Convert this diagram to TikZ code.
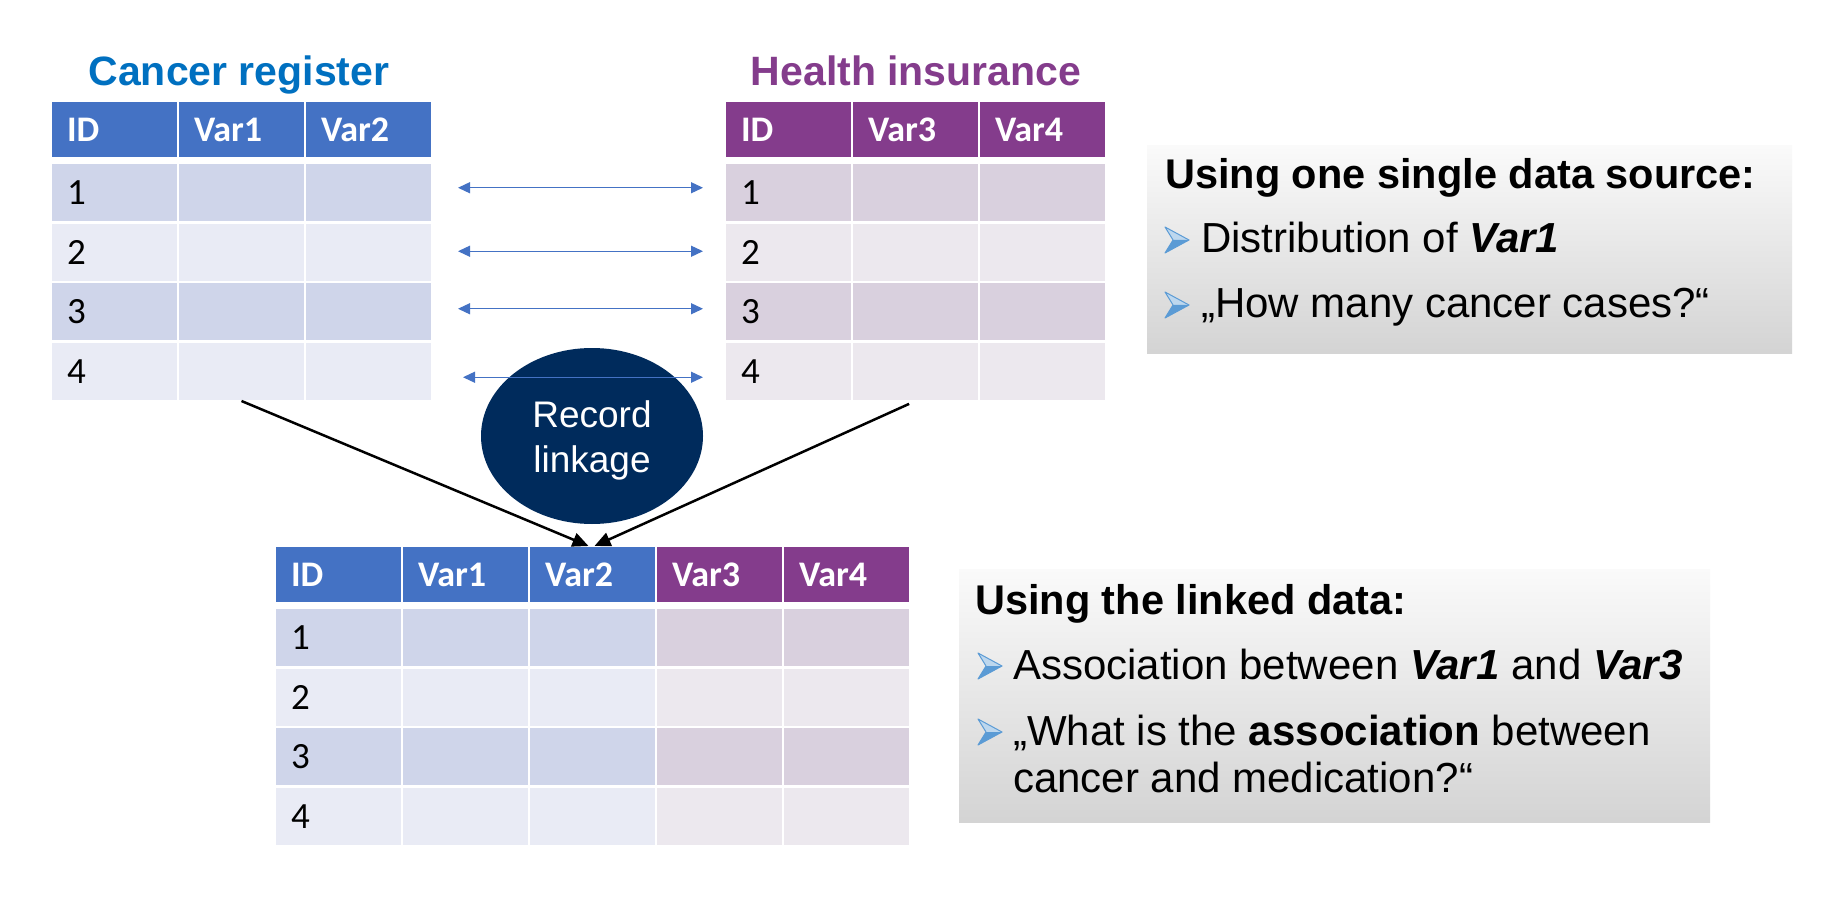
\documentclass[tikz,border=0pt]{standalone}
\usepackage{fontspec}
\setmainfont{Liberation Sans}
\newfontfamily\calib{Carlito}
\usetikzlibrary{shapes.geometric,arrows.meta}
\definecolor{titleblue}{HTML}{0070C0}
\definecolor{hdrblue}{HTML}{4472C4}
\definecolor{boddrow}{HTML}{CFD5EA}
\definecolor{bevenrow}{HTML}{E9EBF5}
\definecolor{purp}{HTML}{843C8C}
\definecolor{poddrow}{HTML}{D9D0DE}
\definecolor{pevenrow}{HTML}{ECE8EE}
\definecolor{navyfill}{HTML}{002B5C}
\definecolor{bulblue}{HTML}{5B9BD5}
\definecolor{bullight}{HTML}{BDD7EE}
\begin{document}
\begin{tikzpicture}[x=1pt,y=-1pt,
  cellbase/.style={draw=white, line width=2.5pt, anchor=north west, minimum width=127pt,
    text width=95pt, inner xsep=16pt, inner ysep=0pt, align=left, outer sep=0pt},
  hdr/.style={cellbase, minimum height=57.5pt, text=white, font={\calib\bfseries\fontsize{36}{40}\selectfont}},
  rowc/.style={cellbase, minimum height=59.5pt, font={\calib\fontsize{37}{40}\selectfont}},
  ttl/.style={anchor=base, inner sep=0pt, font={\bfseries\fontsize{41}{49}\selectfont}},
  qbox/.style={anchor=north west, top color=black!2, bottom color=black!17, inner sep=0pt, outer sep=0pt},
  bhead/.style={anchor=base west, inner sep=0pt, font={\bfseries\fontsize{41.5}{49}\selectfont}},
  btxt/.style={anchor=base west, inner sep=0pt, font={\fontsize{42}{49}\selectfont}},
  linkarr/.style={draw=hdrblue, line width=1.3pt, {Triangle[length=12pt,width=11pt]}-{Triangle[length=12pt,width=11pt]}, shorten <=26pt, shorten >=22pt},
  mergearr/.style={draw=black, line width=2.5pt, -{Triangle[length=16pt,width=14pt]}},
  bul/.pic={
    \fill[bullight] (0,-26) -- (24,-13) -- (8,-13) -- cycle;
    \fill[bulblue] (8,-13) -- (24,-13) -- (0,0) -- cycle;
    \draw[bulblue, line width=1pt, line join=round] (0,-26) -- (24,-13) -- (0,0) -- (8,-13) -- cycle;
  }
]
\useasboundingbox (0,0) rectangle (1842,909);
\fill[white] (0,0) rectangle (1842,909);

% Titles
\node[ttl, text=titleblue] (t1) at (239,86) {Cancer register};
\node[ttl, text=purp] (t2) at (916,86) {Health insurance};

% Cancer register table
\foreach \j/\t in {1/ID,2/Var1,3/Var2}
  \node[hdr, fill=hdrblue] (c-0-\j) at ({51+127*(\j-1)},101) {\t};
\foreach \i/\f in {1/boddrow,2/bevenrow,3/boddrow,4/bevenrow}{
  \node[rowc, fill=\f] (c-\i-1) at (51,{163+59.5*(\i-1)}) {\i};
  \node[rowc, fill=\f] (c-\i-2) at (178,{163+59.5*(\i-1)}) {};
  \node[rowc, fill=\f] (c-\i-3) at (305,{163+59.5*(\i-1)}) {};
}

% Health insurance table
\foreach \j/\t in {1/ID,2/Var3,3/Var4}
  \node[hdr, fill=purp] (h-0-\j) at ({725+127*(\j-1)},101) {\t};
\foreach \i/\f in {1/poddrow,2/pevenrow,3/poddrow,4/pevenrow}{
  \node[rowc, fill=\f] (h-\i-1) at (725,{163+59.5*(\i-1)}) {\i};
  \node[rowc, fill=\f] (h-\i-2) at (852,{163+59.5*(\i-1)}) {};
  \node[rowc, fill=\f] (h-\i-3) at (979,{163+59.5*(\i-1)}) {};
}

% Linked table
\foreach \j/\t/\f in {1/ID/hdrblue,2/Var1/hdrblue,3/Var2/hdrblue,4/Var3/purp,5/Var4/purp}
  \node[hdr, fill=\f] (b-0-\j) at ({275+127*(\j-1)},546) {\t};
\foreach \i/\f/\g in {1/boddrow/poddrow,2/bevenrow/pevenrow,3/boddrow/poddrow,4/bevenrow/pevenrow}{
  \node[rowc, fill=\f] (b-\i-1) at (275,{608+59.5*(\i-1)}) {\i};
  \node[rowc, fill=\f] (b-\i-2) at (402,{608+59.5*(\i-1)}) {};
  \node[rowc, fill=\f] (b-\i-3) at (529,{608+59.5*(\i-1)}) {};
  \node[rowc, fill=\g] (b-\i-4) at (656,{608+59.5*(\i-1)}) {};
  \node[rowc, fill=\g] (b-\i-5) at (783,{608+59.5*(\i-1)}) {};
}

% Record linkage ellipse
\node[ellipse, fill=navyfill, minimum width=222pt, minimum height=176pt, inner sep=0pt] (rl) at (592,436) {};
\node[text=white, align=center, inner sep=0pt, font={\fontsize{37}{45}\selectfont}] (rlt) at ([yshift=-4pt]rl.center) {Record\\linkage};

% Linking arrows
\draw[linkarr] ([yshift=5pt]c-1-3.east) -- ([yshift=5pt]h-1-1.west);
\draw[linkarr] ([yshift=1pt]c-2-3.east) -- ([yshift=1pt]h-2-1.west);
\draw[linkarr] ([yshift=3pt]c-3-3.east) -- ([yshift=3pt]h-3-1.west);
\draw[linkarr, shorten <=31pt] ([yshift=-6pt]c-4-3.east) -- ([yshift=-6pt]h-4-1.west);

% Merge arrows
\draw[mergearr] (c-4-2.south) -- ([xshift=-4pt]b-0-3.north);
\draw[mergearr, shorten <=7pt] (h-4-2.south) -- ([xshift=2pt]b-0-3.north);

% Box 1
\node[qbox, minimum width=645pt, minimum height=207pt] (q1) at (1147,146) {};
\node[bhead] (q1h) at (1165,189) {Using one single data source:};
\pic at (1165,253) {bul};
\node[btxt] (q1a) at (1201,253) {Distribution of \textbf{\textit{Var1}}};
\pic at (1165,318) {bul};
\node[btxt] (q1b) at (1201,318) {„How many cancer cases?“};

% Box 2
\node[qbox, minimum width=751pt, minimum height=253pt] (q2) at (959,569) {};
\node[bhead] (q2h) at (975,614) {Using the linked data:};
\pic at (978,679) {bul};
\node[btxt] (q2a) at (1013,679) {Association between \textbf{\textit{Var1}} and \textbf{\textit{Var3}}};
\pic at (978,745) {bul};
\node[btxt] (q2b) at (1013,745) {„What is the \textbf{association} between};
\node[btxt] (q2c) at (1013,792) {cancer and medication?“};
\end{tikzpicture}
\end{document}
